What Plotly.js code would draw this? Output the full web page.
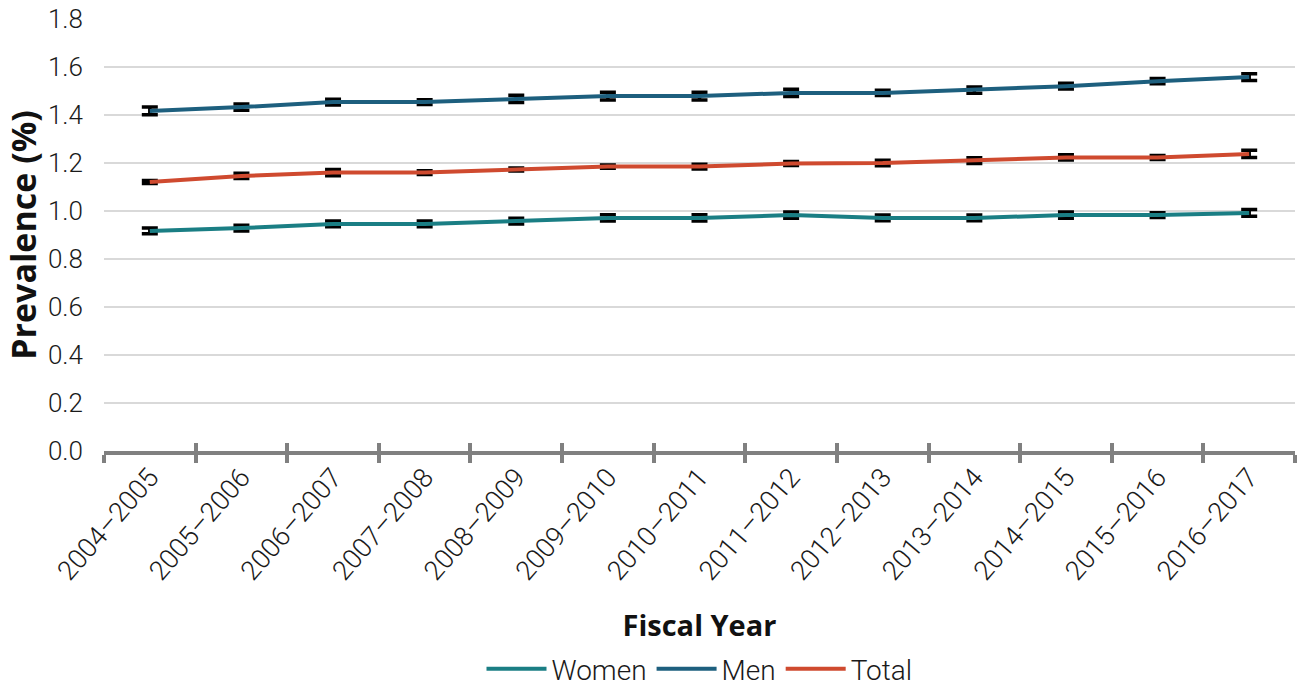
<!DOCTYPE html>
<html>
<head>
<meta charset="utf-8">
<script src="https://cdn.plot.ly/plotly-3.0.1.min.js"></script>
<style>html,body{margin:0;padding:0;background:#fff;}#chart{width:1305px;height:694px;}</style>
</head>
<body>
<div id="chart"></div>
<script>
const years = ["2004–2005","2005–2006","2006–2007","2007–2008","2008–2009","2009–2010","2010–2011","2011–2012","2012–2013","2013–2014","2014–2015","2015–2016","2016–2017"];
const women = [0.917,0.929,0.946,0.946,0.958,0.971,0.971,0.983,0.971,0.971,0.983,0.983,0.992];
const womenErr = [0.012,0.012,0.012,0.012,0.012,0.013,0.013,0.013,0.012,0.012,0.013,0.010,0.014];
const men = [1.417,1.433,1.454,1.454,1.467,1.479,1.479,1.492,1.492,1.504,1.520,1.541,1.558];
const menErr = [0.016,0.013,0.012,0.010,0.015,0.016,0.016,0.015,0.011,0.013,0.012,0.011,0.014];
const total = [1.121,1.146,1.160,1.160,1.173,1.185,1.185,1.198,1.200,1.210,1.223,1.223,1.238];
const totalErr = [0.006,0.011,0.013,0.008,0.006,0.007,0.010,0.008,0.011,0.012,0.011,0.008,0.015];
const boundaries = [-0.5,0.5,1.5,2.5,3.5,4.5,5.5,6.5,7.5,8.5,9.5,10.5,11.5,12.5];

const fontFam = "Roboto, 'Noto Sans', sans-serif";
const titleFam = "'Open Sans', 'Noto Sans', sans-serif";

function mk(name, y, err, color) {
  return {
    x: years, y: y, name: name, type: 'scatter', mode: 'lines',
    line: {color: color, width: 4},
    error_y: {type: 'data', array: err, visible: true, color: '#000000', thickness: 3.5, width: 8}
  };
}

const data = [
  mk('Women', women, womenErr, '#1a7e84'),
  mk('Men', men, menErr, '#1d5f7e'),
  mk('Total', total, totalErr, '#cf4a2f')
];
// invisible traces to activate helper axes
data.push({x: years, y: women, xaxis: 'x2', yaxis: 'y', type: 'scatter', mode: 'lines', line: {width: 0, color: 'rgba(0,0,0,0)'}, showlegend: false, hoverinfo: 'skip'});
data.push({x: years, y: women, xaxis: 'x3', yaxis: 'y', type: 'scatter', mode: 'lines', line: {width: 0, color: 'rgba(0,0,0,0)'}, showlegend: false, hoverinfo: 'skip'});

const hiddenText = boundaries.map(() => '');

const layout = {
  width: 1305, height: 694,
  margin: {l: 104, r: 10, t: 19, b: 243, autoexpand: false},
  paper_bgcolor: '#ffffff', plot_bgcolor: '#ffffff',
  font: {family: fontFam, color: '#1a1a1a', size: 26},
  showlegend: true,
  legend: {orientation: 'h', x: 0.5, xanchor: 'center', yref: 'container', y: 0.0, yanchor: 'bottom', font: {size: 28, family: fontFam, weight: 300}, traceorder: 'normal', itemwidth: 60, tracegroupgap: 0},
  xaxis: {
    type: 'category', range: [-0.5, 12.5], automargin: false,
    showgrid: false, zeroline: false,
    showline: true, linecolor: '#808080', linewidth: 4,
    ticks: 'outside', ticklen: 8, tickwidth: 4, tickcolor: '#808080',
    tickmode: 'array', tickvals: boundaries, ticktext: hiddenText
  },
  xaxis3: {
    type: 'category', overlaying: 'x', matches: 'x', side: 'bottom', anchor: 'y', automargin: false,
    showgrid: false, zeroline: false, showline: false,
    ticks: 'inside', ticklen: 8, tickwidth: 4, tickcolor: '#808080',
    tickmode: 'array', tickvals: boundaries, ticktext: hiddenText
  },
  xaxis2: {
    type: 'category', overlaying: 'x', matches: 'x', side: 'bottom', anchor: 'y', automargin: false,
    showgrid: false, zeroline: false, showline: false,
    ticks: '', tickangle: -49,
    tickmode: 'array', tickvals: years, ticktext: years,
    tickfont: {size: 27, family: fontFam, weight: 300, color: '#1a1a1a'},
    ticklabelstandoff: 4,
    title: {text: '<b>Fiscal Year</b>', font: {size: 29, family: titleFam, color: '#111111'}, standoff: 30}
  },
  yaxis: {
    range: [0, 1.8], dtick: 0.2, tickformat: '.1f', automargin: false,
    showgrid: true, gridcolor: '#d9d9d9', gridwidth: 2,
    zeroline: false, showline: false, ticks: '',
    tickfont: {size: 26, weight: 300},
    ticklabelstandoff: 20,
    title: {text: '<b>Prevalence (%)</b>', font: {size: 34, family: titleFam, color: '#111111'}, standoff: 10}
  }
};

Plotly.newPlot('chart', data, layout, {displayModeBar: false, staticPlot: true});
</script>
</body>
</html>
